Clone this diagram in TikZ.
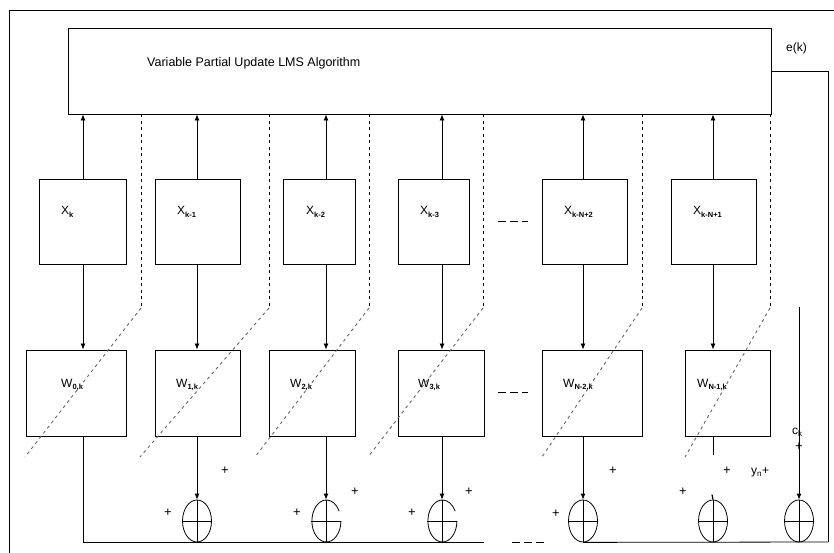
\documentclass[tikz,border=0pt]{standalone}
\usepackage{fontspec}
\setmainfont{Liberation Sans}
\usetikzlibrary{arrows.meta,shapes.geometric}
\newcommand{\sbx}[1]{\raisebox{-0.4ex}{\fontsize{7.5}{8}\selectfont\bfseries #1}}
\begin{document}
\begin{tikzpicture}[x=1pt,y=-1pt,
  box/.style={draw, line width=0.85pt, inner sep=0},
  ln/.style={line width=0.8pt},
  arr/.style={ln, -{Latex[length=6pt,width=5pt]}},
  dshv/.style={line width=0.9pt, dash pattern=on 3pt off 3.5pt, black},
  dshd/.style={line width=0.9pt, dash pattern=on 3pt off 3.5pt, black!60},
  gapdash/.style={line width=0.9pt, dash pattern=on 8pt off 4pt},
  lbl/.style={font=\fontsize{12}{13}\selectfont, anchor=west, inner sep=0},
  pl/.style={font=\fontsize{13}{14}\selectfont, inner sep=0},
  adder/.style={ellipse, minimum width=29pt, minimum height=42pt, inner sep=0, line width=0.8pt},
]
\useasboundingbox (0,0) rectangle (834,553);

% outer frame
\coordinate (of1) at (9,553);
\coordinate (of2) at (9,10);
\coordinate (of3) at (834,10);
\draw[ln] (of1) -- (of2) -- (of3);

% columns
\coordinate (c1) at (83,0);
\coordinate (c2) at (197,0);
\coordinate (c3) at (326,0);
\coordinate (c4) at (442,0);
\coordinate (c5) at (583,0);
\coordinate (c6) at (713,0);

% top box
\node[box, minimum width=703pt, minimum height=86pt] (T) at (419.5,71) {};
\node[lbl, font=\fontsize{12.5}{13}\selectfont] (title) at (147,63) {Variable Partial Update LMS Algorithm};
\node[lbl] (ek) at (786,48) {e(k)};

% X boxes
\node[box, minimum width=87pt, minimum height=85pt] (X1) at (82.5,221.5) {};
\node[box, minimum width=85pt, minimum height=85pt] (X2) at (197.5,221.5) {};
\node[box, minimum width=72pt, minimum height=85pt] (X3) at (319,221.5) {};
\node[box, minimum width=71pt, minimum height=85pt] (X4) at (433.5,221.5) {};
\node[box, minimum width=85pt, minimum height=85pt] (X5) at (584.5,221.5) {};
\node[box, minimum width=85pt, minimum height=85pt] (X6) at (713.5,221.5) {};

\node[lbl] (lx1) at (61,212) {X\sbx{k}};
\node[lbl] (lx2) at (177,212) {X\sbx{k-1}};
\node[lbl] (lx3) at (306,212) {X\sbx{k-2}};
\node[lbl] (lx4) at (420,212) {X\sbx{k-3}};
\node[lbl] (lx5) at (564,212) {X\sbx{k-N+2}};
\node[lbl] (lx6) at (693,212) {X\sbx{k-N+1}};

% W boxes
\node[box, minimum width=100pt, minimum height=86pt] (W1) at (76,393) {};
\node[box, minimum width=85pt, minimum height=86pt] (W2) at (197.5,393) {};
\node[box, minimum width=86pt, minimum height=86pt] (W3) at (312,393) {};
\node[box, minimum width=86pt, minimum height=86pt] (W4) at (441,393) {};
\node[box, minimum width=100pt, minimum height=86pt] (W5) at (592,393) {};
\node[box, minimum width=85pt, minimum height=86pt] (W6) at (727.5,393) {};

\node[lbl] (lw1) at (61,385) {W\sbx{0,k}};
\node[lbl] (lw2) at (176,385) {W\sbx{1,k}};
\node[lbl] (lw3) at (290,385) {W\sbx{2,k}};
\node[lbl] (lw4) at (418,385) {W\sbx{3,k}};
\node[lbl] (lw5) at (563,385) {W\sbx{N-2,k}};
\node[lbl] (lw6) at (697,385) {W\sbx{N-1,k}};

% ellipsis dashes
\coordinate (dx1) at (498,221);
\coordinate (dx2) at (528,221);
\coordinate (dw1) at (498,392);
\coordinate (dw2) at (528,392);
\draw[gapdash] (dx1) -- (dx2);
\draw[gapdash] (dw1) -- (dw2);

% X -> top box, X -> W
\foreach \i in {1,...,6}{
  \draw[arr] (X\i.north -| c\i) -- (T.south -| c\i);
  \draw[arr] (X\i.south -| c\i) -- (W\i.north -| c\i);
}

% dashed selection lines
\coordinate (d1) at (141,308); \coordinate (e1) at (25,457);
\coordinate (d2) at (269,308); \coordinate (e2) at (140,457);
\coordinate (d3) at (369,308); \coordinate (e3) at (255,457);
\coordinate (d4) at (483,308); \coordinate (e4) at (368,457);
\coordinate (d5) at (642,308); \coordinate (e5) at (542,457);
\coordinate (d6) at (770,308); \coordinate (e6) at (685,457);
\foreach \i in {1,...,6}{
  \draw[dshv] (T.south -| d\i) -- (d\i);
  \draw[dshd] (d\i) -- (e\i);
}

% adders
\node[adder, draw] (A1) at (197,521) {};
\node[adder] (A2) at (326,521) {};
\node[adder] (A3) at (442,521) {};
\node[adder, draw] (A4) at (583,521) {};
\node[adder, draw] (A5) at (713,521) {};
\node[adder, draw] (A6) at (799,521) {};
\draw[ln] (A2.east) arc[start angle=360, end angle=28, x radius=14.5pt, y radius=21pt];
\draw[ln] (A3.east) arc[start angle=360, end angle=28, x radius=14.5pt, y radius=21pt];
\foreach \i in {1,...,6}{
  \draw[ln] (A\i.north) -- (A\i.south);
  \draw[ln] (A\i.west) -- (A\i.east);
}
\draw[line width=1.2pt] (A5.north) -- ++(-1,-5);

% W -> adders
\draw[arr] (W2.south -| c2) -- (A1.north);
\draw[arr] (W3.south -| c3) -- (A2.north);
\draw[arr] (W4.south -| c4) -- (A3.north);
\draw[arr] (W5.south -| c5) -- (A4.north);
\coordinate (w6end) at (713,455);
\draw[ln] (W6.south -| c6) -- (w6end);

% bottom line
\coordinate (b1) at (83,542);
\coordinate (b2) at (484,542);
\coordinate (b3) at (512,542);
\coordinate (b4) at (546,542);
\coordinate (br) at (828,542);
\draw[ln] (W1.south -| c1) -- (b1) -- (b2);
\draw[gapdash] (b3) -- (b4);
\draw[ln] (A4.south) -- (br);

% feedback e(k)
\coordinate (fr) at (828,71);
\draw[ln] (br) -- (fr) -- (T.east);

% c_k input
\coordinate (ck) at (799,307);
\draw[arr] (ck) -- (A6.north);
\node[lbl] (lck) at (792,432) {c\textsubscript{k}};
\node[pl] (p12) at (799,447) {+};

% plus signs
\node[pl] (p1) at (168,513) {+};
\node[pl] (p2) at (225,471) {+};
\node[pl] (p3) at (297,513) {+};
\node[pl] (p4) at (355,492) {+};
\node[pl] (p5) at (412,513) {+};
\node[pl] (p6) at (469,492) {+};
\node[pl] (p7) at (556,514) {+};
\node[pl] (p8) at (613,471) {+};
\node[pl] (p9) at (683,492) {+};
\node[pl] (p10) at (727,471) {+};
\node[lbl] (yn) at (751,472) {y\textsubscript{n}+};
\end{tikzpicture}
\end{document}
